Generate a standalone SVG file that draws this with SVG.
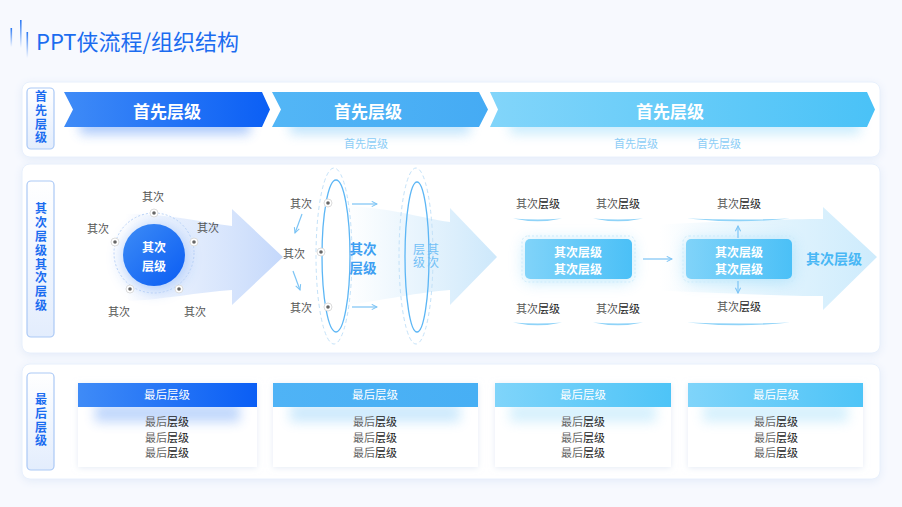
<svg xmlns="http://www.w3.org/2000/svg" width="902" height="507" viewBox="0 0 902 507">
<defs>
<style>
text{font-family:"Noto Sans CJK SC","Noto Sans",sans-serif;}
.panel{fill:#ffffff;stroke:#e8f0fc;stroke-width:1;filter:url(#shadow);}
.lbox{fill:url(#gLabel);stroke:#abc9f6;stroke-width:1.2;}
.ltxt{fill:#1b6cf0;font-size:12px;font-weight:700;text-anchor:middle;writing-mode:vertical-rl;letter-spacing:1.8px;}
.band{fill:#ffffff;font-size:17px;font-weight:700;text-anchor:middle;dominant-baseline:central;}
.sub{fill:#8ccdf6;font-size:11px;text-anchor:middle;dominant-baseline:central;}
.g{fill:#555555;font-size:11px;text-anchor:middle;dominant-baseline:central;}
.d{fill:#222222;}
.dot-o{fill:#ffffff;stroke:#dcdcdc;stroke-width:1;}
.dot-i{fill:#666666;}
.arr{fill:none;stroke:#7cc4f5;stroke-width:1.2;marker-end:url(#ah);}
.ul{fill:#8fd3f8;}
.boxt{fill:#ffffff;font-size:12px;font-weight:700;text-anchor:middle;dominant-baseline:central;}
.card{fill:#ffffff;filter:url(#cshadow);}
.ch{fill:#ffffff;font-size:11.5px;text-anchor:middle;dominant-baseline:central;}
.cb{fill:#666666;font-size:11px;text-anchor:middle;dominant-baseline:central;}
</style>
<filter id="shadow" x="-5%" y="-20%" width="110%" height="140%">
<feDropShadow dx="0" dy="2" stdDeviation="4" flood-color="#cddcf3" flood-opacity="0.45"/>
</filter>
<filter id="cshadow" x="-10%" y="-20%" width="120%" height="140%">
<feDropShadow dx="0" dy="1" stdDeviation="3" flood-color="#d3deef" flood-opacity="0.6"/>
</filter>
<filter id="blur6" x="-20%" y="-100%" width="140%" height="300%">
<feGaussianBlur stdDeviation="6"/>
</filter>
<filter id="blur8" x="-50%" y="-50%" width="200%" height="200%">
<feGaussianBlur stdDeviation="8"/>
</filter>
<linearGradient id="gLabel" x1="0" y1="0" x2="0" y2="1">
<stop offset="0" stop-color="#ffffff"/><stop offset="1" stop-color="#e3edfd"/>
</linearGradient>
<linearGradient id="gA1" x1="0" y1="0" x2="1" y2="0">
<stop offset="0" stop-color="#3f8bf7"/><stop offset="1" stop-color="#0b5ff5"/>
</linearGradient>
<linearGradient id="gA2" x1="0" y1="0" x2="1" y2="0">
<stop offset="0" stop-color="#53b6f6"/><stop offset="1" stop-color="#45abf4"/>
</linearGradient>
<linearGradient id="gA3" x1="0" y1="0" x2="1" y2="0">
<stop offset="0" stop-color="#82d5fa"/><stop offset="1" stop-color="#4ac2f7"/>
</linearGradient>
<linearGradient id="gCircle" x1="0" y1="0" x2="1" y2="1">
<stop offset="0" stop-color="#3d8cf6"/><stop offset="1" stop-color="#0a5cf3"/>
</linearGradient>
<linearGradient id="gBig1" gradientUnits="userSpaceOnUse" x1="125" y1="0" x2="283" y2="0">
<stop offset="0" stop-color="#c6dafc" stop-opacity="0"/><stop offset="0.55" stop-color="#d3e2fc" stop-opacity="0.8"/><stop offset="1" stop-color="#c4d8fb"/>
</linearGradient>
<linearGradient id="gBig2" gradientUnits="userSpaceOnUse" x1="345" y1="0" x2="497" y2="0">
<stop offset="0" stop-color="#d0e9fb" stop-opacity="0"/><stop offset="1" stop-color="#cde8fb"/>
</linearGradient>
<linearGradient id="gBig3" gradientUnits="userSpaceOnUse" x1="660" y1="0" x2="877" y2="0">
<stop offset="0" stop-color="#d4eefc" stop-opacity="0"/><stop offset="0.6" stop-color="#dbf1fd" stop-opacity="0.9"/><stop offset="1" stop-color="#cdebfc"/>
</linearGradient>
<linearGradient id="gBox" x1="0" y1="0" x2="1" y2="0">
<stop offset="0" stop-color="#80d3f9"/><stop offset="1" stop-color="#4bc0f7"/>
</linearGradient>
<linearGradient id="gC1" x1="0" y1="0" x2="1" y2="0">
<stop offset="0" stop-color="#3f8bf7"/><stop offset="1" stop-color="#0a5ef5"/>
</linearGradient>
<linearGradient id="gC2" x1="0" y1="0" x2="1" y2="0">
<stop offset="0" stop-color="#4fb3f6"/><stop offset="1" stop-color="#47aff4"/>
</linearGradient>
<linearGradient id="gC3" x1="0" y1="0" x2="1" y2="0">
<stop offset="0" stop-color="#7fd4fa"/><stop offset="1" stop-color="#4ec4f7"/>
</linearGradient>
<linearGradient id="gLine" x1="0" y1="0" x2="0" y2="1">
<stop offset="0" stop-color="#2a78f3"/><stop offset="1" stop-color="#2a78f3" stop-opacity="0"/>
</linearGradient>
<marker id="ah" viewBox="0 0 8 8" refX="7" refY="4" markerWidth="7" markerHeight="7" orient="auto" markerUnits="userSpaceOnUse">
<path d="M1,1 L7,4 L1,7" fill="none" stroke="#7cc4f5" stroke-width="1.2"/>
</marker>
</defs>

<rect x="0" y="0" width="902" height="507" fill="#f7f9fe"/>

<g id="title">
<rect x="10.5" y="28" width="1.6" height="19" fill="url(#gLine)"/>
<rect x="20" y="20" width="1.6" height="28" fill="url(#gLine)"/>
<rect x="26.5" y="32" width="1.6" height="26" fill="url(#gLine)"/>
<text x="36" y="50" font-size="22" fill="#1b6cf0">PPT侠流程/组织结构</text>
</g>

<g id="panels">
<rect class="panel" x="22" y="82" width="858" height="75" rx="8"/>
<rect class="panel" x="22" y="164" width="858" height="189" rx="8"/>
<rect class="panel" x="22" y="364" width="858" height="115" rx="8"/>
</g>

<g id="label-1">
<rect class="lbox" x="27" y="88" width="27" height="61" rx="4"/>
<text class="ltxt" x="41" y="118">首先层级</text>
</g>
<g id="label-2">
<rect class="lbox" x="27" y="181" width="27" height="156" rx="4"/>
<text class="ltxt" x="41" y="258" letter-spacing="2.1">其次层级其次层级</text>
</g>
<g id="label-3">
<rect class="lbox" x="27" y="373" width="27" height="97" rx="4"/>
<text class="ltxt" x="41" y="421" letter-spacing="2">最后层级</text>
</g>

<g id="band-1">
<rect x="80" y="118" width="170" height="16" fill="#2e7af5" opacity="0.4" filter="url(#blur6)"/>
<path d="M64,92 L262,92 L270,109.5 L262,127 L64,127 L73,109.5 Z" fill="url(#gA1)"/>
<text class="band" x="167" y="110">首先层级</text>
</g>
<g id="band-2">
<rect x="290" y="118" width="180" height="16" fill="#4db3f6" opacity="0.35" filter="url(#blur6)"/>
<path d="M272,92 L479,92 L488,109.5 L479,127 L272,127 L281,109.5 Z" fill="url(#gA2)"/>
<text class="band" x="368" y="110">首先层级</text>
<text class="sub" x="366" y="143">首先层级</text>
</g>
<g id="band-3">
<rect x="510" y="118" width="350" height="16" fill="#6ccbf8" opacity="0.35" filter="url(#blur6)"/>
<path d="M490,92 L867,92 L875,109.5 L867,127 L490,127 L498,109.5 Z" fill="url(#gA3)"/>
<text class="band" x="670" y="110">首先层级</text>
<text class="sub" x="636" y="143">首先层级</text>
<text class="sub" x="719" y="143">首先层级</text>
</g>

<g id="stage-1">
<path d="M120,214 C160,212 200,222 232,226 L232,209 L283,257 L232,305 L232,290 C200,292 160,300 128,301 Z" fill="url(#gBig1)"/>
<circle cx="154" cy="258" r="32" fill="#2a78f3" opacity="0.35" filter="url(#blur8)"/>
<circle cx="154" cy="253" r="40" fill="none" stroke="#b9d2f8" stroke-width="1" stroke-dasharray="2 2"/>
<circle cx="154" cy="255" r="31" fill="url(#gCircle)"/>
<text class="boxt" x="154" y="245.5" font-size="13"><tspan x="154">其次</tspan><tspan x="154" dy="19">层级</tspan></text>
<circle class="dot-o" cx="154" cy="213" r="4"/><circle class="dot-i" cx="154" cy="213" r="1.8"/>
<circle class="dot-o" cx="115" cy="242" r="4"/><circle class="dot-i" cx="115" cy="242" r="1.8"/>
<circle class="dot-o" cx="194" cy="242" r="4"/><circle class="dot-i" cx="194" cy="242" r="1.8"/>
<circle class="dot-o" cx="130" cy="289" r="4"/><circle class="dot-i" cx="130" cy="289" r="1.8"/>
<circle class="dot-o" cx="179" cy="289" r="4"/><circle class="dot-i" cx="179" cy="289" r="1.8"/>
<text class="g" x="153" y="196">其次</text>
<text class="g" x="98" y="228">其次</text>
<text class="g" x="208" y="227">其次</text>
<text class="g" x="119" y="311">其次</text>
<text class="g" x="195" y="311">其次</text>
</g>

<g id="stage-2">
<path d="M340,206 C385,206 420,218 450,222 L450,208 L497,257 L450,305 L450,290 C420,292 385,300 340,306 Z" fill="url(#gBig2)"/>
<ellipse cx="334" cy="256" rx="18" ry="88" fill="none" stroke="#c4e2f9" stroke-width="1" stroke-dasharray="4 3"/>
<ellipse cx="336" cy="256" rx="14" ry="76" fill="none" stroke="#5cb6f5" stroke-width="1.3"/>
<ellipse cx="416" cy="256" rx="17" ry="88" fill="none" stroke="#c4e2f9" stroke-width="1" stroke-dasharray="4 3"/>
<ellipse cx="417" cy="257" rx="12" ry="75" fill="none" stroke="#5cb6f5" stroke-width="1.3"/>
<circle class="dot-o" cx="328" cy="203" r="4"/><circle class="dot-i" cx="328" cy="203" r="1.8"/>
<circle class="dot-o" cx="321" cy="252" r="4"/><circle class="dot-i" cx="321" cy="252" r="1.8"/>
<circle class="dot-o" cx="328" cy="307" r="4"/><circle class="dot-i" cx="328" cy="307" r="1.8"/>
<text class="g" x="301" y="203">其次</text>
<text class="g" x="294" y="253">其次</text>
<text class="g" x="301" y="307">其次</text>
<text x="363" y="247.5" fill="#3e9ff2" font-size="13.5" font-weight="700" text-anchor="middle" dominant-baseline="central"><tspan x="363">其次</tspan><tspan x="363" dy="19.6">层级</tspan></text>
<text x="419" y="256" fill="#72c0f6" font-size="12" text-anchor="middle" writing-mode="vertical-rl" letter-spacing="1">层级</text>
<text x="433" y="256" fill="#72c0f6" font-size="12" text-anchor="middle" writing-mode="vertical-rl" letter-spacing="1">其次</text>
</g>

<g id="stage-3">
<path d="M640,226 C700,222 780,219 823,219 L823,207 L877,257 L823,310 L823,296 C780,296 700,292 640,290 Z" fill="url(#gBig3)"/>
<rect x="525" y="241" width="107" height="40" rx="5" fill="#5cc6f8" opacity="0.4" filter="url(#blur8)"/>
<rect x="686" y="241" width="106" height="40" rx="5" fill="#5cc6f8" opacity="0.4" filter="url(#blur8)"/>
</g>

<g id="box-1">
<rect x="522" y="236" width="113" height="46" rx="6" fill="none" stroke="#cdebfb" stroke-width="1" stroke-dasharray="2 2"/>
<rect x="525" y="239" width="107" height="40" rx="5" fill="url(#gBox)"/>
<text class="boxt" x="578" y="250.5"><tspan x="578">其次层级</tspan><tspan x="578" dy="17.5">其次层级</tspan></text>
<text class="g" x="538" y="203">其次<tspan class="d">层级</tspan></text>
<text class="g" x="618" y="203">其次<tspan class="d">层级</tspan></text>
<text class="g" x="538" y="308">其次<tspan class="d">层级</tspan></text>
<text class="g" x="618" y="308">其次<tspan class="d">层级</tspan></text>
<path class="ul" d="M513,218.5 Q538,224 562,218.5 Q538,220.5 513,218.5 Z"/>
<path class="ul" d="M593,218.5 Q618,224 643,218.5 Q618,220.5 593,218.5 Z"/>
<path class="ul" d="M513,322.5 Q538,328 562,322.5 Q538,324.5 513,322.5 Z"/>
<path class="ul" d="M593,322.5 Q618,328 643,322.5 Q618,324.5 593,322.5 Z"/>
</g>

<g id="box-2">
<rect x="683" y="236" width="112" height="46" rx="6" fill="none" stroke="#cdebfb" stroke-width="1" stroke-dasharray="2 2"/>
<rect x="686" y="239" width="106" height="40" rx="5" fill="url(#gBox)"/>
<text class="boxt" x="739" y="250.5"><tspan x="739">其次层级</tspan><tspan x="739" dy="17.5">其次层级</tspan></text>
<text class="g" x="739" y="203">其次<tspan class="d">层级</tspan></text>
<text class="g" x="739" y="306">其次<tspan class="d">层级</tspan></text>
<path class="ul" d="M687,218.5 Q739,224 790,218.5 Q739,220.5 687,218.5 Z"/>
<path class="ul" d="M687,322.5 Q739,328 790,322.5 Q739,324.5 687,322.5 Z"/>
<text x="834" y="258" fill="#48b7f5" font-size="14" font-weight="700" text-anchor="middle" dominant-baseline="central">其次层级</text>
</g>

<g id="connectors">
<path class="arr" d="M302,214 L295,233"/>
<path class="arr" d="M293,271 L300,290"/>
<path class="arr" d="M352,204 L377,204"/>
<path class="arr" d="M352,307 L377,307"/>
<path class="arr" d="M643,259 L672,259"/>
<path class="arr" d="M738,238 L738,226"/>
<path class="arr" d="M738,281 L738,293"/>
</g>

<g id="card-1">
<rect class="card" x="78" y="383" width="179" height="84"/>
<rect x="95" y="404" width="145" height="18" fill="#2e7af5" opacity="0.3" filter="url(#blur6)"/>
<rect x="78" y="383" width="179" height="24" fill="url(#gC1)"/>
<text class="ch" x="167" y="394">最后层级</text>
<text class="cb" x="167" y="421">最后<tspan class="d">层级</tspan></text>
<text class="cb" x="167" y="437">最后<tspan class="d">层级</tspan></text>
<text class="cb" x="167" y="452">最后<tspan class="d">层级</tspan></text>
</g>
<g id="card-2">
<rect class="card" x="273" y="383" width="205" height="84"/>
<rect x="290" y="404" width="170" height="18" fill="#4db3f6" opacity="0.28" filter="url(#blur6)"/>
<rect x="273" y="383" width="205" height="24" fill="url(#gC2)"/>
<text class="ch" x="375" y="394">最后层级</text>
<text class="cb" x="375" y="421">最后<tspan class="d">层级</tspan></text>
<text class="cb" x="375" y="437">最后<tspan class="d">层级</tspan></text>
<text class="cb" x="375" y="452">最后<tspan class="d">层级</tspan></text>
</g>
<g id="card-3">
<rect class="card" x="495" y="383" width="176" height="84"/>
<rect x="510" y="404" width="146" height="18" fill="#6ccbf8" opacity="0.28" filter="url(#blur6)"/>
<rect x="495" y="383" width="176" height="24" fill="url(#gC3)"/>
<text class="ch" x="583" y="394">最后层级</text>
<text class="cb" x="583" y="421">最后<tspan class="d">层级</tspan></text>
<text class="cb" x="583" y="437">最后<tspan class="d">层级</tspan></text>
<text class="cb" x="583" y="452">最后<tspan class="d">层级</tspan></text>
</g>
<g id="card-4">
<rect class="card" x="688" y="383" width="175" height="84"/>
<rect x="703" y="404" width="145" height="18" fill="#6ccbf8" opacity="0.28" filter="url(#blur6)"/>
<rect x="688" y="383" width="175" height="24" fill="url(#gC3)"/>
<text class="ch" x="776" y="394">最后层级</text>
<text class="cb" x="776" y="421">最后<tspan class="d">层级</tspan></text>
<text class="cb" x="776" y="437">最后<tspan class="d">层级</tspan></text>
<text class="cb" x="776" y="452">最后<tspan class="d">层级</tspan></text>
</g>
</svg>
